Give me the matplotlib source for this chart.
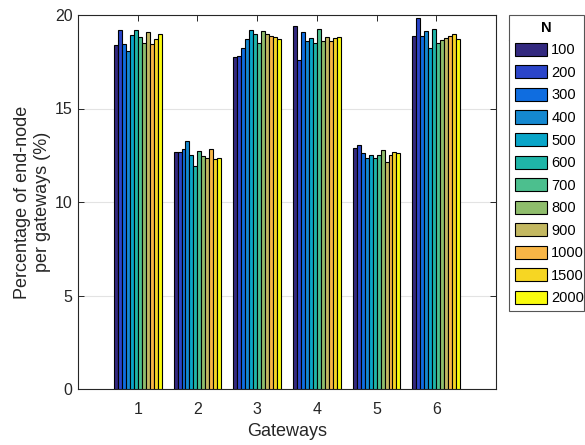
import numpy as np
import matplotlib
matplotlib.use("Agg")
import matplotlib.pyplot as plt
from matplotlib.lines import Line2D

plt.rcParams['font.family'] = ['Liberation Sans', 'DejaVu Sans']

gateways = [1, 2, 3, 4, 5, 6]
n_labels = ["100", "200", "300", "400", "500", "600", "700", "800", "900", "1000", "1500", "2000"]
colors = ["#33297f", "#2b45c9", "#0f6de0", "#1488d0", "#09a5c8", "#1fb5a8",
          "#4cbf8e", "#8fbd6c", "#c3b861", "#f8b646", "#f6d623", "#f9fb0e"]

# values[gateway][N]
g1 = [18.4, 19.2, 18.45, 18.1, 18.95, 19.2, 18.8, 18.5, 19.1, 18.45, 18.7, 19.0]
g2 = [12.7, 12.65, 12.85, 13.25, 12.5, 11.9, 12.75, 12.45, 12.35, 12.85, 12.3, 12.35]
g3 = [17.75, 17.8, 18.25, 18.7, 19.2, 19.0, 18.5, 19.15, 19.0, 18.9, 18.8, 18.7]
g4 = [19.4, 17.6, 19.1, 18.6, 18.75, 18.5, 19.25, 18.6, 18.8, 18.6, 18.75, 18.8]
g5 = [12.9, 13.05, 12.6, 12.35, 12.5, 12.35, 12.5, 12.8, 12.15, 12.5, 12.65, 12.6]
g6 = [18.9, 19.85, 18.9, 19.15, 18.25, 19.25, 18.5, 18.65, 18.75, 18.9, 19.0, 18.7]
values = np.array([g1, g2, g3, g4, g5, g6])

tc = "#262626"
fig = plt.figure(figsize=(5.85, 4.45), dpi=100)
ax = fig.add_axes([78/585, 1-389/445, (496-78)/585, (389-15)/445])

nser = len(n_labels)
group_w = 0.8
bw = group_w / nser
x = np.array(gateways, dtype=float)
handles = []
for i in range(nser):
    pos = x - group_w/2 + bw*(i + 0.5)
    h = ax.bar(pos, values[:, i], width=bw, color=colors[i], edgecolor="black",
               linewidth=0.8, zorder=3, label=n_labels[i])
    handles.append(h)

ax.set_xlim(0, 7)
ax.set_ylim(0, 20)
ax.set_xticks(gateways)
ax.set_yticks([0, 5, 10, 15, 20])
ax.yaxis.grid(True, color="#e3e3e3", linewidth=0.8, zorder=0)
ax.set_axisbelow(True)
ax.tick_params(direction="in", length=4, width=0.7, top=True, right=True,
               labelsize=11.5, colors=tc, labelcolor=tc)
ax.tick_params(axis="x", pad=9)
ax.tick_params(axis="y", pad=4)
for s in ax.spines.values():
    s.set_color(tc)
    s.set_linewidth(0.8)
ax.set_xlabel("Gateways", fontsize=13, color=tc, labelpad=5)
ax.set_ylabel("Percentage of end-node\nper gateways (%)", fontsize=13, color=tc, labelpad=3)

leg = fig.legend(handles=handles, labels=n_labels, title="N",
                 bbox_to_anchor=(509/585, 0.2, 75/585, 1-15/445-0.2),
                 loc="upper left", mode="expand", fontsize=10.5,
                 handlelength=2.2, handleheight=1.0, handletextpad=0.3,
                 labelspacing=0.55, borderpad=0.4, borderaxespad=0,
                 fancybox=False, edgecolor="#555555", framealpha=1,
                 title_fontproperties={"weight": "bold", "size": 10.5})
leg.get_frame().set_linewidth(0.8)
for t in leg.get_texts():
    t.set_color("black")
fig.add_artist(Line2D([509/585, 584/585], [1-40/445, 1-40/445],
                      transform=fig.transFigure, color="#555555", linewidth=0.8))

fig.savefig("out.png", dpi=100)
